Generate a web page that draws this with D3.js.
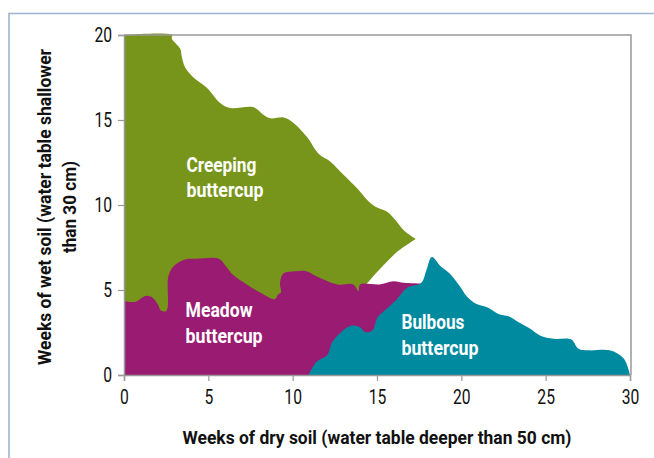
<!DOCTYPE html>
<html>
<head>
<meta charset="utf-8">
<script src="https://cdn.jsdelivr.net/npm/d3@7"></script>
<style>
body { margin: 0; background: #fff; }
text { font-family: Roboto, "Noto Sans", sans-serif; }
</style>
</head>
<body>
<div id="chart"></div>
<script>
// boundaries, [weeks dry, weeks wet]
let creepingTop = [[0,20],[2.85,20],[2.83,19.8],[3.33,19.2],[3.43,18.7],[3.62,18.1],[4.12,17.5],[4.91,16.9],
    [5.7,16.0],[6.3,15.7],[7.68,15.75],[8.28,15.3],[8.67,15.1],[9.47,15.15],[9.96,14.9],[10.85,14.0],
    [11.55,13.0],[12.24,12.55],[13.03,11.76],[13.82,10.98],[14.42,10.3],[14.91,9.9],[15.6,9.6],
    [16.1,9.1],[16.6,8.5],[17.3,8.0]]
let creepingEdge = [[17.3,8.0],[16.2,7.25],[15.4,6.47],[14.6,5.6],[14.2,5.1],[14.0,4.5]]
let meadowTop = [[0,4.36],[0.66,4.3],[1.28,4.65],[1.7,4.55],[2.0,4.17],[2.2,3.78],[2.52,3.78],[2.63,5.81],
    [2.94,6.4],[3.56,6.78],[4.28,6.84],[5.63,6.84],[6.04,6.4],[6.46,5.9],[7.28,5.33],[8.1,4.84],
    [8.94,4.46],[9.14,4.75],[9.3,4.84],[9.25,5.43],[9.45,5.97],[10.18,6.1],[10.8,6.1],[11.4,5.81],
    [12.66,5.33],[13.6,5.33],[13.9,4.94],[14.0,5.33],[15.15,5.33],[15.97,5.52],[16.6,5.43],[17.63,5.37],[17.9,5.3]]
let bulbousTop = [[10.94,0],[11.42,0.78],[12.04,1.16],[12.35,1.94],[12.87,2.52],[13.49,2.91],[14.0,2.81],
    [14.3,2.52],[14.73,2.62],[15.04,3.39],[15.56,3.88],[16.18,4.46],[16.8,5.14],[17.63,5.43],[17.94,6.2],
    [18.25,6.94],[18.77,6.4],[19.28,6.0],[19.9,5.23],[20.3,4.65],[20.9,4.17],[21.56,3.97],[22.2,3.59],
    [22.8,3.45],[23.4,3.1],[24.04,2.75],[24.66,2.33],[25.49,2.13],[26.52,2.09],[26.94,1.55],[27.56,1.45],
    [28.8,1.45],[29.63,0.97],[30,0]]
let xTicks = [0,5,10,15,20,25,30]
let yTicks = [0,5,10,15,20]
let labels = [
    {lines:["Creeping","buttercup"], x:3.7, y:11.95},
    {lines:["Meadow","buttercup"], x:3.65, y:3.4},
    {lines:["Bulbous","buttercup"], x:16.45, y:2.7}
]
let colors = {creeping:"#77951a", meadow:"#9a1c72", bulbous:"#008a9f"}
// widths of the condensed face in the picture, px
let wordWidth = {Creeping:70, Meadow:67, Bulbous:63, buttercup:77}

var svg = d3.select("#chart")
    .append("svg")
        .attr("width", 654)
        .attr("height", 458)

let xScale = d3.scaleLinear().domain([0, 30]).range([124, 630])
let yScale = d3.scaleLinear().domain([0, 20]).range([375, 35])

// outer frame
svg.append("path")
    .attr("d", "M9,458 V13.5 H654")
    .attr("fill", "none")
    .attr("stroke", "#9fb3d1")
    .attr("stroke-width", 1.6)

let curve = d3.line()
    .x(d => xScale(d[0]))
    .y(d => yScale(d[1]))
    .curve(d3.curveCatmullRom.alpha(0.5))

function shape(top, tail) {
    let p = curve(top)
    tail.forEach(d => { p += "L" + xScale(d[0]) + "," + yScale(d[1]) })
    return p + "Z"
}

svg.append("path")
    .attr("d", curve(creepingTop) + curve(creepingEdge).replace("M", "L") +
        "L" + xScale(14) + "," + yScale(3) + "L" + xScale(0) + "," + yScale(3) + "Z")
    .attr("fill", colors.creeping)

svg.append("path")
    .attr("d", shape(meadowTop, [[17.9,0],[0,0]]))
    .attr("fill", colors.meadow)

svg.append("path")
    .attr("d", shape(bulbousTop, [[10.94,0]]))
    .attr("fill", colors.bulbous)

// plot frame top and right
svg.append("path")
    .attr("d", `M${xScale(0)},${yScale(20)} H${xScale(30)+1} V${yScale(0)}`)
    .attr("fill", "none")
    .attr("stroke", "#999")
    .attr("stroke-width", 1.5)

let xAxis = svg.append("g")
    .attr("transform", `translate(0,${yScale(0)})`)
    .call(d3.axisBottom(xScale).tickValues(xTicks).tickSize(6).tickPadding(9))
let yAxis = svg.append("g")
    .attr("transform", `translate(${xScale(0)},0)`)
    .call(d3.axisLeft(yScale).tickValues(yTicks).tickSize(6).tickPadding(6))

svg.selectAll(".domain").attr("stroke", "#999").attr("stroke-width", 1.5)
svg.selectAll(".tick line").attr("stroke", "#999").attr("stroke-width", 1.2)
svg.selectAll(".tick text")
    .attr("fill", "#111")
    .style("font-size", "20px")
    .style("font-family", null)
    .attr("textLength", d => String(d).length * 8.8)
    .attr("lengthAdjust", "spacingAndGlyphs")

svg.append("text")
    .attr("x", 377)
    .attr("y", 444)
    .attr("text-anchor", "middle")
    .style("font-size", "19px")
    .style("font-weight", "bold")
    .attr("fill", "#111")
    .attr("textLength", 389)
    .attr("lengthAdjust", "spacingAndGlyphs")
    .text("Weeks of dry soil (water table deeper than 50 cm)")

let yTitle = svg.append("text")
    .attr("transform", "translate(51,207) rotate(-90)")
    .attr("text-anchor", "middle")
    .style("font-size", "19px")
    .style("font-weight", "bold")
    .attr("fill", "#111")
yTitle.append("tspan").attr("x", 0).attr("y", 0)
    .attr("textLength", 316).attr("lengthAdjust", "spacingAndGlyphs")
    .text("Weeks of wet soil (water table shallower")
yTitle.append("tspan").attr("x", 0).attr("y", 25)
    .attr("textLength", 92).attr("lengthAdjust", "spacingAndGlyphs")
    .text("than 30 cm)")

labels.forEach(l => {
    let t = svg.append("text")
        .attr("x", xScale(l.x))
        .attr("y", yScale(l.y))
        .style("font-size", "21px")
        .style("font-weight", "bold")
        .attr("fill", "#fff")
    l.lines.forEach((s, i) => {
        t.append("tspan").attr("x", xScale(l.x)).attr("dy", i == 0 ? 0 : 25.5)
            .attr("textLength", wordWidth[s]).attr("lengthAdjust", "spacingAndGlyphs")
            .text(s)
    })
})
</script>
</body>
</html>
